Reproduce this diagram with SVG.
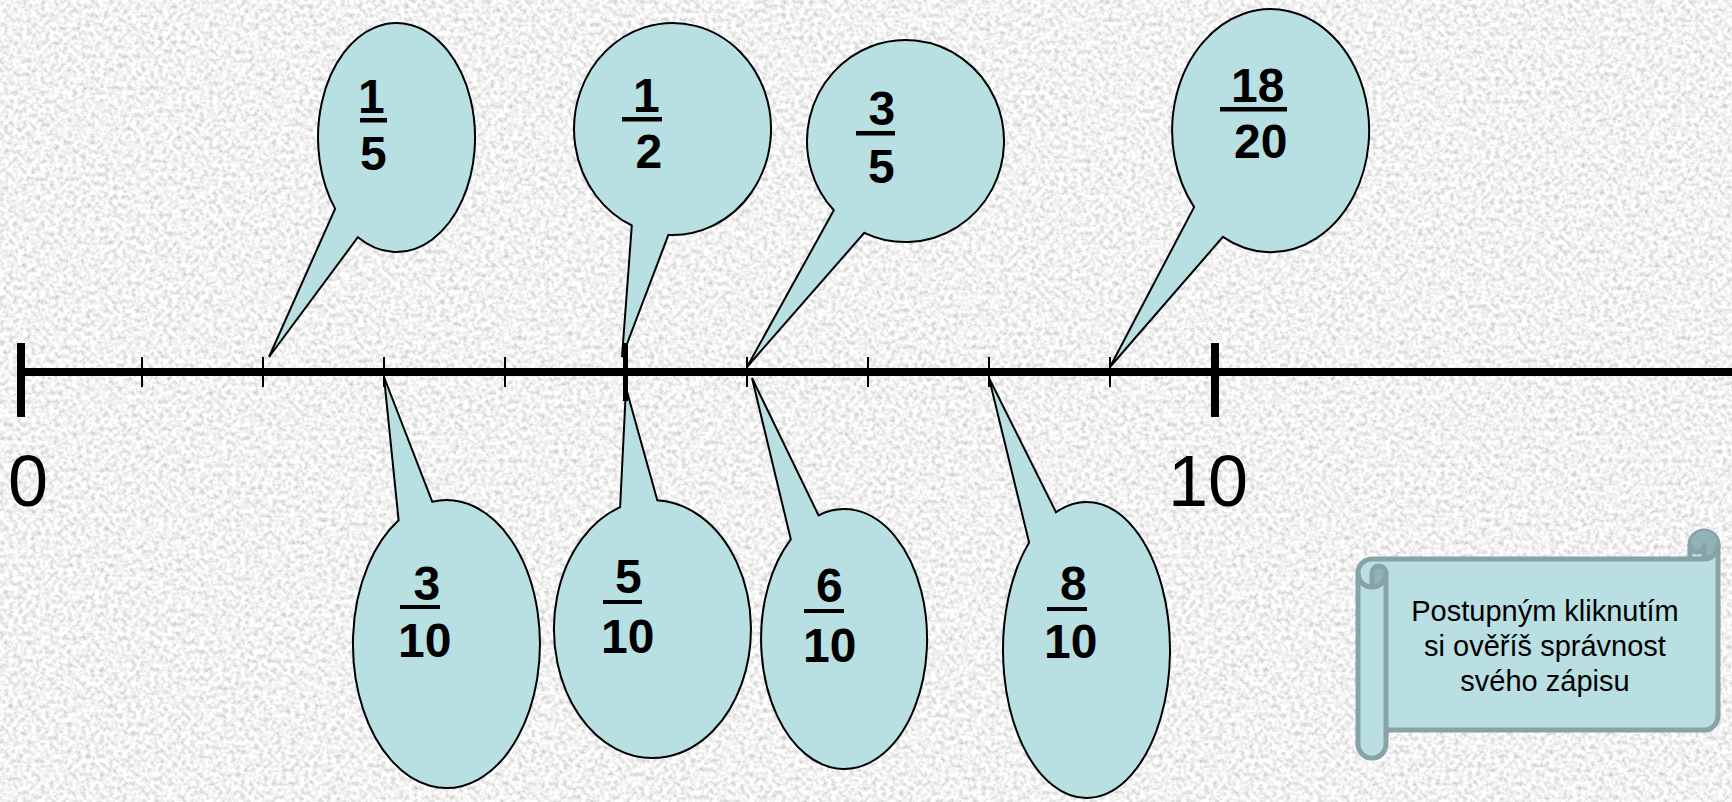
<svg xmlns="http://www.w3.org/2000/svg" width="1732" height="802" viewBox="0 0 1732 802">
<defs>
<filter id="paper" x="0" y="0" width="100%" height="100%" filterUnits="userSpaceOnUse">
<feTurbulence type="fractalNoise" baseFrequency="0.22" numOctaves="4" seed="7" result="n"/>
<feColorMatrix in="n" type="matrix" values="0.8 0 0 0 0.49  0.8 0 0 0 0.49  0.8 0 0 0 0.49  0 0 0 0 1"/>
</filter>
<style>
.bubble{fill:#B8DFE2;stroke:#000;stroke-width:2;stroke-linejoin:miter}
.frac{font-family:"Liberation Sans",Arial,sans-serif;font-weight:bold;font-size:48px;fill:#000}
.bar{fill:#000}
.axlabel{font-family:"Liberation Sans",Arial,sans-serif;font-size:72px;fill:#000}
.tick{stroke:#000;stroke-width:2}
.scroll-body{fill:#B9DFE3;stroke:#87A3A5;stroke-width:5;stroke-linejoin:round}
.scroll-dark{fill:#93B2B5;stroke:none}
.scroll-line{fill:none;stroke:#87A3A5;stroke-width:5;stroke-linejoin:round;stroke-linecap:round}
.note{font-family:"Liberation Sans",Arial,sans-serif;font-size:29px;fill:#000;text-anchor:middle}
</style>
</defs>
<rect id="background" x="0" y="0" width="1732" height="802" fill="#E2E2E2" filter="url(#paper)"/>

<g id="bubble-1-5">
<path class="bubble" d="M 335.1 208.8 L 269 357 L 357.9 237.2 A 78.5 114.5 0 1 0 335.1 208.8 Z"/>
<rect class="bar" x="360" y="118" width="27" height="4.5"/>
<text class="frac" x="358" y="113">1</text>
<text class="frac" x="360" y="170">5</text>
</g>

<g id="bubble-1-2">
<path class="bubble" d="M 631.8 225.5 L 622 357 L 668.4 234.9 A 98.5 106 0 1 0 631.8 225.5 Z"/>
<rect class="bar" x="622" y="117" width="40" height="4.5"/>
<text class="frac" x="633" y="112">1</text>
<text class="frac" x="635.5" y="168">2</text>
</g>

<g id="bubble-3-5">
<path class="bubble" d="M 833.8 210.3 L 747 367 L 864.3 232.8 A 98.5 101 0 1 0 833.8 210.3 Z"/>
<rect class="bar" x="856" y="131" width="39" height="4.5"/>
<text class="frac" x="868.5" y="125">3</text>
<text class="frac" x="868" y="183">5</text>
</g>

<g id="bubble-18-20">
<path class="bubble" d="M 1194.1 207.1 L 1110 367 L 1222.9 236.9 A 98.5 121.5 0 1 0 1194.1 207.1 Z"/>
<rect class="bar" x="1220" y="107" width="67" height="4.5"/>
<text class="frac" x="1231" y="102">18</text>
<text class="frac" x="1234" y="158">20</text>
</g>

<g id="bubble-3-10">
<path class="bubble" d="M 432.2 501.7 L 384 377 L 398.6 520.3 A 93.5 144 0 1 0 432.2 501.7 Z"/>
<rect class="bar" x="400" y="605" width="40" height="4"/>
<text class="frac" x="413.5" y="600">3</text>
<text class="frac" x="398" y="657">10</text>
</g>

<g id="bubble-5-10">
<path class="bubble" d="M 657.3 500.2 L 626 388 L 620.1 507.2 A 98.5 129 0 1 0 657.3 500.2 Z"/>
<rect class="bar" x="603" y="600" width="39" height="4"/>
<text class="frac" x="615" y="593">5</text>
<text class="frac" x="601" y="653">10</text>
</g>

<g id="bubble-6-10">
<path class="bubble" d="M 818.5 515.3 L 752 378 L 790.8 539.3 A 83 130 0 1 0 818.5 515.3 Z"/>
<rect class="bar" x="804" y="609" width="40" height="4"/>
<text class="frac" x="816" y="602">6</text>
<text class="frac" x="803" y="662">10</text>
</g>

<g id="bubble-8-10">
<path class="bubble" d="M 1056 512.2 L 989 378 L 1029.1 542.5 A 83.5 148 0 1 0 1056 512.2 Z"/>
<rect class="bar" x="1047" y="607" width="40" height="4"/>
<text class="frac" x="1060" y="600">8</text>
<text class="frac" x="1044" y="658">10</text>
</g>

<g id="number-line">
<rect x="20" y="368" width="1712" height="8" fill="#000"/>
<rect x="17" y="343" width="8" height="74" fill="#000"/>
<rect x="1211" y="343" width="8" height="74" fill="#000"/>
<rect x="623" y="343" width="5" height="58" fill="#000"/>
<line class="tick" x1="142" y1="357" x2="142" y2="387"/>
<line class="tick" x1="263" y1="357" x2="263" y2="387"/>
<line class="tick" x1="384" y1="357" x2="384" y2="387"/>
<line class="tick" x1="505" y1="357" x2="505" y2="387"/>
<line class="tick" x1="747" y1="357" x2="747" y2="387"/>
<line class="tick" x1="868" y1="357" x2="868" y2="387"/>
<line class="tick" x1="989" y1="357" x2="989" y2="387"/>
<line class="tick" x1="1110" y1="357" x2="1110" y2="387"/>
<text class="axlabel" x="8" y="506">0</text>
<text class="axlabel" x="1168" y="506">10</text>
</g>

<g id="note-scroll">
<path class="scroll-body" d="M 1358 573 A 14 14 0 0 1 1372 559 L 1690 559 L 1690 545 A 14 14 0 0 1 1718 545 L 1718 716 A 14 14 0 0 1 1704 730 L 1386 730 L 1386 744 A 14 14 0 0 1 1358 744 Z"/>
<path class="scroll-dark" d="M 1704 559 A 14 14 0 1 0 1690 545 A 7 7 0 0 0 1704 545 Z"/>
<path class="scroll-dark" d="M 1372 587 A 14 14 0 0 0 1386 573 A 7 7 0 0 0 1372 573 Z"/>
<path class="scroll-line" d="M 1690 559 L 1704 559 A 14 14 0 0 0 1718 545 M 1704 559 L 1704 545 A 7 7 0 0 1 1690 545 M 1372 587 L 1372 573 A 7 7 0 0 1 1386 573 A 14 14 0 0 1 1358 573 M 1386 573 L 1386 730"/>
<text class="note" x="1545" y="621">Postupným kliknutím</text>
<text class="note" x="1545" y="656">si ověříš správnost</text>
<text class="note" x="1545" y="691">svého zápisu</text>
</g>
</svg>
